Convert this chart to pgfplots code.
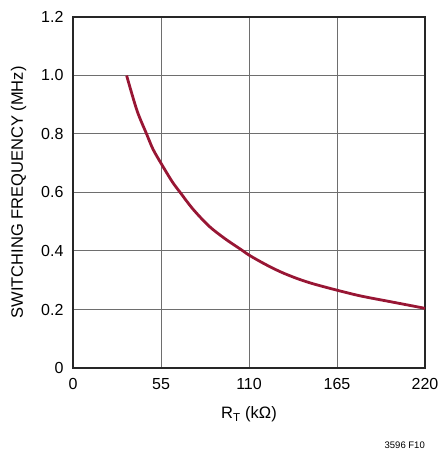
\documentclass[border=0pt]{standalone}
\usepackage{pgfplots}
\pgfplotsset{compat=1.18}
\usepackage{fontspec}
\setmainfont{Liberation Sans}
\definecolor{curve}{RGB}{152,22,52}
\definecolor{gridc}{RGB}{110,110,110}
\begin{document}
\begin{tikzpicture}[x=1bp,y=1bp]
\useasboundingbox (0,0) rectangle (438,451);
\begin{axis}[
  scale only axis,
  width=352bp, height=351bp,
  at={(73bp,83bp)}, anchor=south west,
  xmin=0, xmax=220, ymin=0, ymax=1.2,
  xtick={0,55,110,165,220},
  ytick={0,0.2,0.4,0.6,0.8,1.0,1.2},
  yticklabels={0,0.2,0.4,0.6,0.8,1.0,1.2},
  /pgf/number format/assume math mode=true,
  major tick length=0pt,
  grid=major,
  major grid style={gridc, line width=1bp},
  axis line style={black!85, line width=1.6bp},
  ticklabel style={font=\fontsize{16bp}{19bp}\selectfont},
  xticklabel style={yshift=-7bp},
  yticklabel style={xshift=-6bp},
  label style={font=\fontsize{16.5bp}{19bp}\selectfont},
  xlabel={R\textsubscript{T} (kΩ)},
  ylabel={SWITCHING FREQUENCY (MHz)},
  xlabel style={yshift=-10bp},
  ylabel style={yshift=8bp},
  clip=false,
]
\addplot[curve, line width=2.8bp, smooth, tension=0.5] coordinates {
(33.5,1.0) (40,0.88) (46,0.80) (50,0.748) (55,0.70) (62,0.637) (67,0.60)
(75,0.543) (85,0.485) (95,0.442) (105,0.405) (110,0.386) (120,0.355)
(130,0.328) (140,0.306) (150,0.288) (165,0.266) (180,0.246) (200,0.225) (220,0.204)
};
\end{axis}
\node[anchor=south east, inner sep=0pt, font=\fontsize{9.5bp}{11bp}\selectfont] at (425,2) {3596 F10};
\end{tikzpicture}
\end{document}
